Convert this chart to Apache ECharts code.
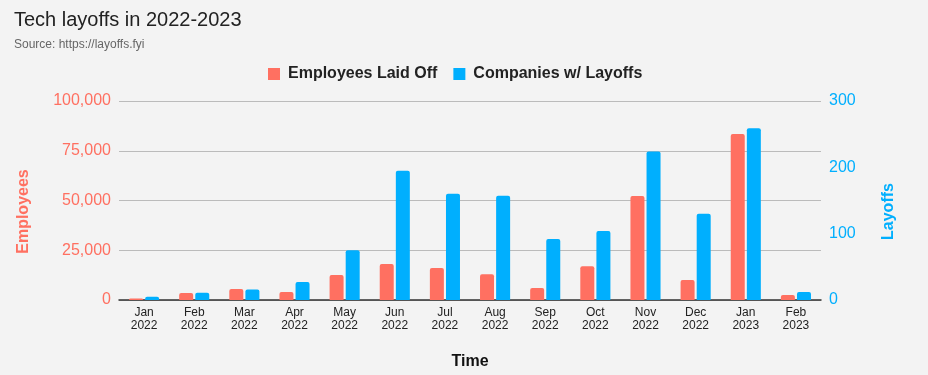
<!DOCTYPE html>
<html>
<head>
<meta charset="utf-8">
<script src="https://cdn.jsdelivr.net/npm/echarts@6/dist/echarts.min.js"></script>
<style>
html,body{margin:0;padding:0;background:#f3f3f3;}
#c{width:928px;height:375px;}
</style>
</head>
<body>
<div id="c"></div>
<script>
const categories = ['Jan\n2022','Feb\n2022','Mar\n2022','Apr\n2022','May\n2022','Jun\n2022','Jul\n2022','Aug\n2022','Sep\n2022','Oct\n2022','Nov\n2022','Dec\n2022','Jan\n2023','Feb\n2023'];
const employeesLaidOff = [700, 3500, 5500, 4000, 12600, 18100, 16100, 13000, 6000, 17000, 52300, 10000, 83400, 2500];
const companiesWithLayoffs = [5, 11, 16, 27, 75, 195, 160, 157, 92, 104, 224, 130, 259, 12];
const FONT = '"Liberation Sans", Arial, sans-serif';
const RED = '#ff7061';
const BLUE = '#00affe';

const chart = echarts.init(document.getElementById('c'));
chart.setOption({
  backgroundColor: '#f3f3f3',
  textStyle: { fontFamily: FONT },
  title: {
    text: 'Tech layoffs in 2022-2023',
    subtext: 'Source: https://layoffs.fyi',
    left: 9, top: 5,
    itemGap: 9,
    textStyle: { fontFamily: FONT, fontSize: 20, fontWeight: 'normal', color: '#222' },
    subtextStyle: { fontFamily: FONT, fontSize: 12, color: '#666' }
  },
  legend: {
    top: 61, left: 263,
    itemWidth: 12, itemHeight: 12, itemGap: 16,
    icon: 'rect',
    textStyle: { fontFamily: FONT, fontSize: 16, fontWeight: 'bold', color: '#222', padding: [0, 0, 0, 3] },
    data: ['Employees Laid Off', 'Companies w/ Layoffs']
  },
  grid: { left: 119, right: 107, top: 101, height: 199, containLabel: false },
  xAxis: {
    type: 'category',
    data: categories,
    name: 'Time',
    nameLocation: 'middle',
    nameGap: 54,
    nameTextStyle: { fontFamily: FONT, fontSize: 16, fontWeight: 'bold', color: '#111' },
    axisLine: { lineStyle: { color: '#333', width: 1.5 } },
    axisTick: { show: false },
    axisLabel: { fontFamily: FONT, fontSize: 12, color: '#222', lineHeight: 13, margin: 6, interval: 0 }
  },
  yAxis: [
    {
      type: 'value', min: 0, max: 100000, interval: 25000,
      name: 'Employees', nameLocation: 'middle', nameGap: 87,
      nameTextStyle: { fontFamily: FONT, fontSize: 16, fontWeight: 'bold', color: RED, padding: [0, 22, 0, 0] },
      axisLine: { show: false }, axisTick: { show: false },
      axisLabel: { fontFamily: FONT, fontSize: 16, color: RED, margin: 8,
        formatter: v => v.toLocaleString('en-US') },
      splitLine: { lineStyle: { color: '#bbb', width: 1 } }
    },
    {
      type: 'value', min: 0, max: 300, interval: 100,
      name: 'Layoffs', nameLocation: 'middle', nameGap: 60,
      nameTextStyle: { fontFamily: FONT, fontSize: 16, fontWeight: 'bold', color: BLUE, padding: [0, 22, 0, 0] },
      axisLine: { show: false }, axisTick: { show: false },
      axisLabel: { fontFamily: FONT, fontSize: 16, color: BLUE, margin: 8 },
      splitLine: { show: false }
    }
  ],
  series: [
    {
      name: 'Employees Laid Off', type: 'bar', yAxisIndex: 0,
      data: employeesLaidOff, barWidth: 14, barGap: '15%',
      itemStyle: { color: RED, borderRadius: [2, 2, 0, 0] }
    },
    {
      name: 'Companies w/ Layoffs', type: 'bar', yAxisIndex: 1,
      data: companiesWithLayoffs, barWidth: 14, barGap: '15%',
      itemStyle: { color: BLUE, borderRadius: [2, 2, 0, 0] }
    }
  ]
});
</script>
</body>
</html>
